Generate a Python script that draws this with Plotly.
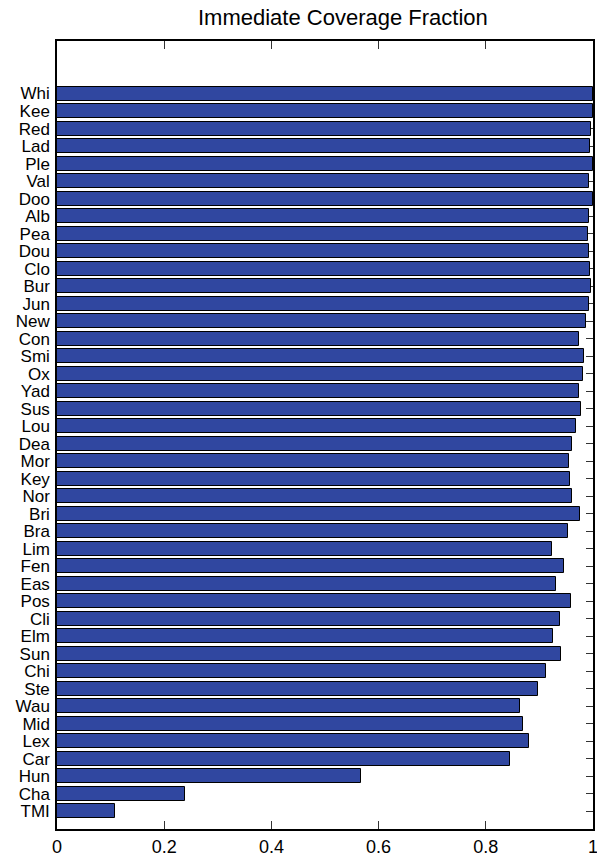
import plotly.graph_objects as go

# Sites listed top to bottom
sites = ["Whi", "Kee", "Red", "Lad", "Ple", "Val", "Doo", "Alb", "Pea", "Dou",
         "Clo", "Bur", "Jun", "New", "Con", "Smi", "Ox", "Yad", "Sus", "Lou",
         "Dea", "Mor", "Key", "Nor", "Bri", "Bra", "Lim", "Fen", "Eas", "Pos",
         "Cli", "Elm", "Sun", "Chi", "Ste", "Wau", "Mid", "Lex", "Car", "Hun",
         "Cha", "TMI"]
coverage = [1.000, 1.000, 0.997, 0.995, 1.000, 0.992, 1.000, 0.992, 0.990, 0.992,
            0.995, 0.997, 0.992, 0.987, 0.973, 0.983, 0.981, 0.973, 0.977, 0.969,
            0.960, 0.956, 0.958, 0.961, 0.975, 0.954, 0.923, 0.945, 0.931, 0.959,
            0.938, 0.925, 0.941, 0.912, 0.897, 0.864, 0.869, 0.881, 0.846, 0.568,
            0.238, 0.109]
x_ticks = [0, 0.2, 0.4, 0.6, 0.8, 1]
x_ticktext = ["0", "0.2", "0.4", "0.6", "0.8", "1"]

n = len(sites)
# bar positions: last site at 1, first site at n
positions = [n - i for i in range(n)]

FONT = "Liberation Sans, Arial, Helvetica, sans-serif"

fig = go.Figure()
fig.add_trace(go.Bar(
    x=coverage,
    y=positions,
    orientation="h",
    width=0.8,
    marker=dict(color="#3047A0", line=dict(color="black", width=1)),
    showlegend=False,
))

fig.update_layout(
    width=597,
    height=857,
    margin=dict(l=57, r=4, t=41, b=28),
    paper_bgcolor="white",
    plot_bgcolor="white",
    font=dict(family=FONT, size=17, color="black"),
    annotations=[dict(
        text="Immediate Coverage Fraction",
        xref="paper", yref="paper",
        x=(342.5 - 57) / 536, y=1,
        xanchor="center", yanchor="bottom", yshift=9,
        showarrow=False,
        font=dict(family=FONT, size=22, color="black"),
    )],
    bargap=0,
)

fig.update_xaxes(
    range=[0, 1],
    tickvals=x_ticks,
    ticktext=x_ticktext,
    ticks="inside",
    ticklen=8,
    tickcolor="#333",
    showline=True,
    linecolor="black",
    linewidth=1.5,
    mirror="ticks",
    showgrid=False,
    zeroline=False,
    automargin=False,
    ticklabeloverflow="allow",
    ticklabelstandoff=1,
    tickfont=dict(size=18),
)
fig.update_yaxes(
    range=[0, n + 3],
    tickvals=positions,
    ticktext=sites,
    ticks="inside",
    ticklen=7,
    tickcolor="#333",
    showline=True,
    linecolor="black",
    linewidth=1.5,
    mirror="ticks",
    showgrid=False,
    zeroline=False,
    automargin=False,
    layer="below traces",
    ticklabelstandoff=2,
    tickfont=dict(size=17),
)

fig.write_html("out.html")
